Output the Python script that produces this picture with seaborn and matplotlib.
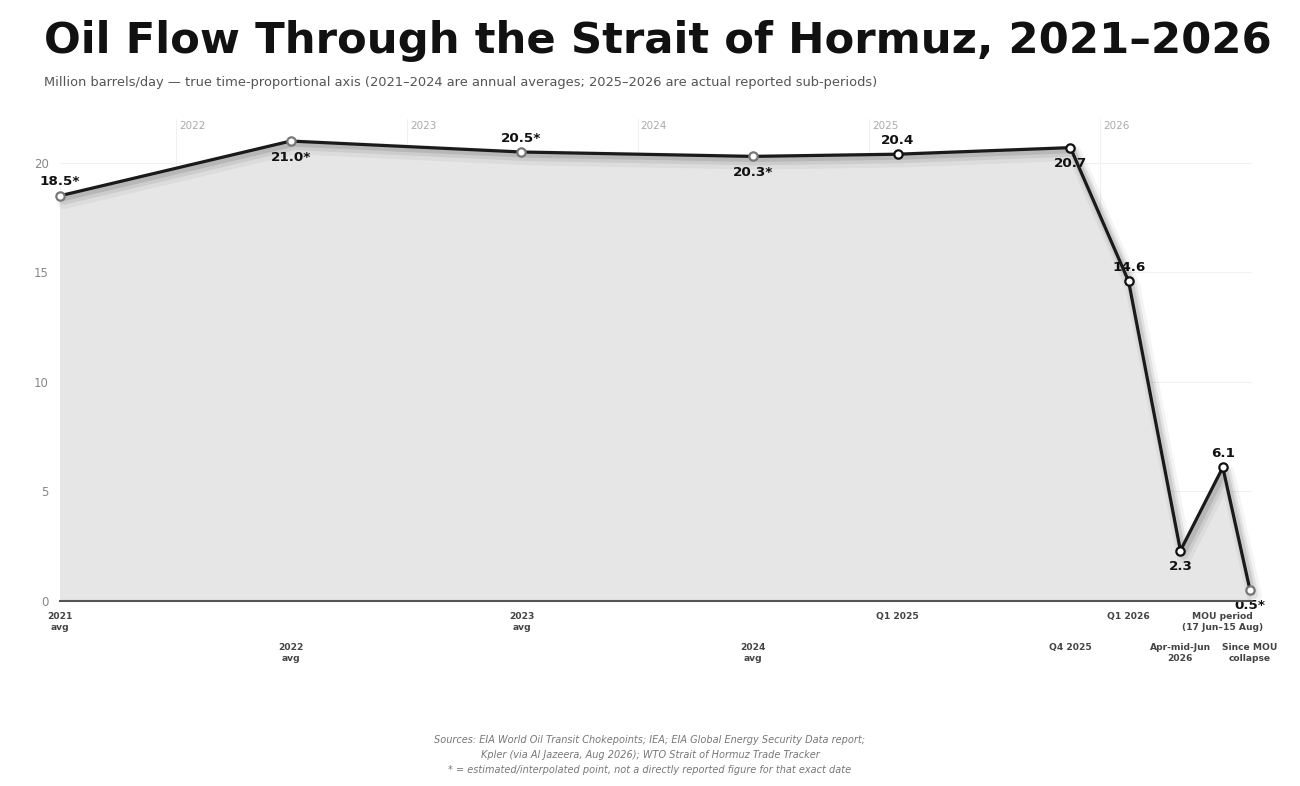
import pandas as pd
import numpy as np
import matplotlib
matplotlib.use('Agg')
import matplotlib.pyplot as plt
import matplotlib.patheffects as pe
import seaborn as sns

# ── Data ──────────────────────────────────────────────────────
period_labels = ['2021\navg', '2022\navg', '2023\navg', '2024\navg', 'Q1 2025',
                 'Q4 2025', 'Q1 2026', 'Apr-mid-Jun\n2026',
                 'MOU period\n(17 Jun–15 Aug)', 'Since MOU\ncollapse']
period_dates = ['2021-07-01', '2022-07-01', '2023-07-01', '2024-07-01', '2025-02-15',
                '2025-11-15', '2026-02-15', '2026-05-08', '2026-07-14', '2026-08-26']
flow_mbd = [18.5, 21.0, 20.5, 20.3, 20.4, 20.7, 14.6, 2.3, 6.1, 0.5]
estimated = [True, True, True, True, False, False, False, False, False, True]
year_labels = ['2022', '2023', '2024', '2025', '2026']

df = pd.DataFrame({'date': pd.to_datetime(period_dates), 'flow': flow_mbd,
                   'est': estimated, 'label': period_labels})

# value label placement: +1 above, -1 below
label_side = [1, -1, 1, -1, 1, -1, 1, -1, 1, -1]

# ── Plot ──────────────────────────────────────────────────────
sns.set_theme(style='whitegrid', rc={'grid.color': '#f1f1f1', 'grid.linewidth': 0.8})
plt.rcParams['font.family'] = ['DejaVu Sans']

fig = plt.figure(figsize=(13, 7.86), dpi=100)
ax = fig.add_axes([0.046, 0.2354, 0.917, 0.613])

ax.fill_between(df['date'], 0, df['flow'], color='#e6e6e6', zorder=1)

# soft drop shadow under the line
shadow = [pe.SimpleLineShadow(offset=(3, -4), shadow_color='#000000', alpha=0.045, linewidth=11),
          pe.SimpleLineShadow(offset=(2.5, -3), shadow_color='#000000', alpha=0.07, linewidth=7),
          pe.SimpleLineShadow(offset=(2, -2), shadow_color='#000000', alpha=0.10, linewidth=4),
          pe.Normal()]
sns.lineplot(data=df, x='date', y='flow', ax=ax, color='#1a1a1a', linewidth=2.3,
             zorder=3, path_effects=shadow, clip_on=False)

for est, sub in df.groupby('est'):
    ax.plot(sub['date'], sub['flow'], 'o', ms=6, mfc='white',
            mec='#777777' if est else '#111111', mew=1.6, zorder=4, clip_on=False)

for i, row in df.iterrows():
    txt = f"{row['flow']:.1f}" + ('*' if row['est'] else '')
    side = label_side[i]
    ax.annotate(txt, (row['date'], row['flow']),
                xytext=(0, 10 if side > 0 else -11.5),
                textcoords='offset points', ha='center', va='center',
                fontsize=9.7, fontweight='bold', color='#111111', zorder=2)

ax.set_xlim(df['date'].iloc[0], df['date'].iloc[-1] + pd.Timedelta(days=3))
ax.set_ylim(0, 22)
ax.set_yticks([0, 5, 10, 15, 20])
ax.tick_params(axis='y', labelsize=8.5, labelcolor='#888888', length=0, pad=8)

ax.set_xticks(df['date'])
ax.set_xticklabels(period_labels, fontsize=6.6, fontweight='bold', color='#444444',
                   linespacing=1.3)
ax.tick_params(axis='x', length=4, width=0.8, color='#aaaaaa', direction='out', pad=4)
for i, tick in enumerate(ax.xaxis.get_major_ticks()):
    if i % 2 == 1:
        tick.set_pad(26.5)
ax.xaxis.grid(False)

for yr in year_labels:
    d = pd.Timestamp(f'{yr}-01-01')
    ax.axvline(d, color='#f1f1f1', lw=0.8, zorder=0)
    ax.annotate(yr, (d, 21.7), xytext=(2, 0), textcoords='offset points',
                ha='left', va='center', fontsize=7.5, color='#aaaaaa')

for s in ['top', 'right', 'left']:
    ax.spines[s].set_visible(False)
ax.spines['bottom'].set_color('#555555')
ax.spines['bottom'].set_linewidth(1.5)
ax.set_xlabel('')
ax.set_ylabel('')

fig.text(0.034, 0.948, 'Oil Flow Through the Strait of Hormuz, 2021–2026',
         fontsize=31.2, fontweight='heavy', color='#111111', va='center')
fig.text(0.034, 0.895, 'Million barrels/day — true time-proportional axis '
         '(2021–2024 are annual averages; 2025–2026 are actual reported sub-periods)',
         fontsize=9.4, color='#555555', va='center')

fig.text(0.5, 0.014, 'Sources: EIA World Oil Transit Chokepoints; IEA; EIA Global Energy Security Data report;\n'
         'Kpler (via Al Jazeera, Aug 2026); WTO Strait of Hormuz Trade Tracker\n'
         '* = estimated/interpolated point, not a directly reported figure for that exact date',
         ha='center', va='bottom', fontsize=7, style='italic', color='#777777',
         linespacing=1.6)

fig.savefig('out.png', dpi=100)
